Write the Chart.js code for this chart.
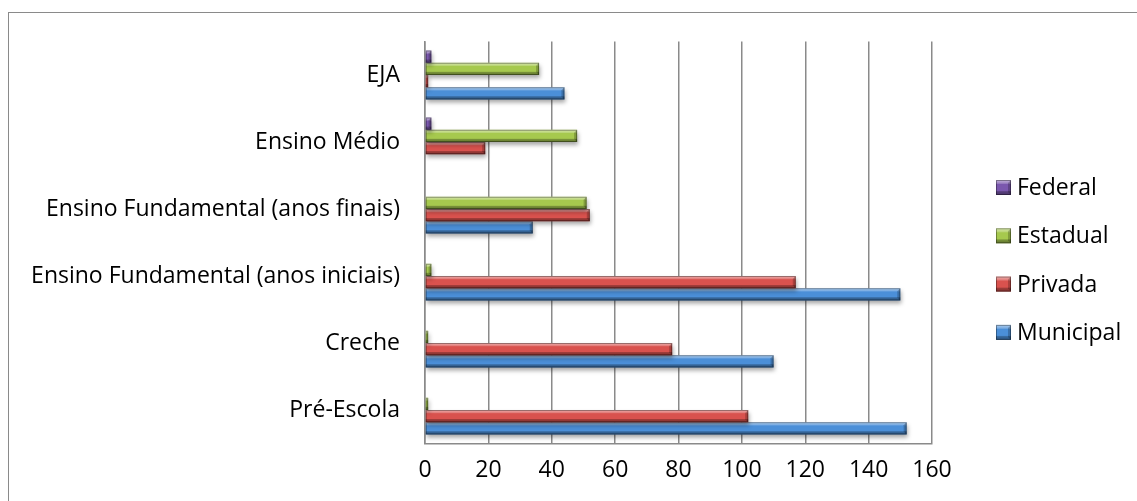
<!DOCTYPE html>
<html>
<head>
<meta charset="utf-8">
<script src="https://cdn.jsdelivr.net/npm/chart.js@4/dist/chart.umd.min.js"></script>
<style>
  html, body { margin: 0; padding: 0; background: #fff; overflow: hidden; }
  #frame { position: absolute; left: 8px; top: 12px; width: 1200px; height: 600px;
           border: 1.5px solid #8a8a8a; box-sizing: border-box; }
  #wrap { position: absolute; left: 0; top: 0; width: 1137px; height: 501px; }
</style>
</head>
<body>
<div id="frame"></div>
<div id="wrap"><canvas id="chart-0"></canvas></div>
<script>
  var categories = ['EJA', 'Ensino Médio', 'Ensino Fundamental (anos finais)',
    'Ensino Fundamental (anos iniciais)', 'Creche', 'Pré-Escola'];
  var federal = [2, 2, 0, 0, 0, 0];
  var estadual = [36, 48, 51, 2, 1, 1];
  var privada = [1, 19, 52, 117, 78, 102];
  var municipal = [44, 0, 34, 150, 110, 152];
  var xTicks = [0, 20, 40, 60, 80, 100, 120, 140, 160];

  var colors = {
    federal: '#7b58ae',
    estadual: '#a6c94e',
    privada: '#d9524e',
    municipal: '#4b8fd8'
  };

  Chart.defaults.font.family = '"Open Sans", Lato, sans-serif';
  Chart.defaults.font.size = 23;
  Chart.defaults.color = '#000';

  // light top edge, dark bottom edge and a bevelled tip, like office 3d bars
  function bevel(ctx, left, top, w, h) {
    var g = ctx.createLinearGradient(0, top, 0, top + h);
    g.addColorStop(0, 'rgba(255,255,255,0.55)');
    g.addColorStop(0.22, 'rgba(255,255,255,0.25)');
    g.addColorStop(0.3, 'rgba(255,255,255,0)');
    g.addColorStop(0.7, 'rgba(0,0,0,0)');
    g.addColorStop(0.78, 'rgba(0,0,0,0.28)');
    g.addColorStop(1, 'rgba(0,0,0,0.42)');
    ctx.fillStyle = g;
    ctx.fillRect(left, top, w, h);
    var d = Math.min(3, w / 2);
    ctx.fillStyle = 'rgba(0,0,0,0.22)';
    ctx.beginPath();
    ctx.moveTo(left + w, top);
    ctx.lineTo(left + w - d, top + 3);
    ctx.lineTo(left + w - d, top + h - 3);
    ctx.lineTo(left + w, top + h);
    ctx.closePath();
    ctx.fill();
    ctx.strokeStyle = 'rgba(0,0,0,0.35)';
    ctx.lineWidth = 1;
    ctx.strokeRect(left + 0.5, top + 0.5, Math.max(w - 1, 0), h - 1);
  }

  var barShade = {
    id: 'barShade',
    beforeDatasetsDraw: function(chart) {
      var ctx = chart.ctx;
      ctx.save();
      ctx.shadowColor = 'rgba(0,0,0,0.35)';
      ctx.shadowBlur = 4;
      ctx.shadowOffsetX = 1;
      ctx.shadowOffsetY = 3;
    },
    afterDatasetDraw: function(chart, args) {
      var ctx = chart.ctx;
      ctx.save();
      ctx.shadowColor = 'rgba(0,0,0,0)';
      args.meta.data.forEach(function(bar) {
        var p = bar.getProps(['x', 'y', 'base', 'height'], true);
        var w = Math.abs(p.x - p.base);
        if (w < 0.5) return;
        bevel(ctx, Math.min(p.x, p.base), p.y - p.height / 2, w, p.height);
      });
      ctx.restore();
    },
    afterDatasetsDraw: function(chart) {
      chart.ctx.restore();
    }
  };

  // legend on the right, listed in dataset order
  var sideLegend = {
    id: 'sideLegend',
    afterDraw: function(chart) {
      var ctx = chart.ctx;
      var area = chart.chartArea;
      var x0 = area.right + 64;
      var y0 = area.top + 146;
      var step = 48.3;
      ctx.save();
      ctx.font = '23px ' + Chart.defaults.font.family;
      ctx.textBaseline = 'middle';
      chart.data.datasets.forEach(function(ds, i) {
        var cy = y0 + i * step;
        ctx.fillStyle = ds.backgroundColor;
        ctx.fillRect(x0, cy - 7.5, 15, 15);
        bevel(ctx, x0, cy - 7.5, 15, 15);
        ctx.fillStyle = '#000';
        ctx.fillText(ds.label, x0 + 21, cy + 1);
      });
      ctx.restore();
    }
  };

  var data = {
    labels: categories,
    datasets: [{
      label: 'Federal', data: federal, backgroundColor: colors.federal
    }, {
      label: 'Estadual', data: estadual, backgroundColor: colors.estadual
    }, {
      label: 'Privada', data: privada, backgroundColor: colors.privada
    }, {
      label: 'Municipal', data: municipal, backgroundColor: colors.municipal
    }]
  };

  var options = {
    indexAxis: 'y',
    responsive: true,
    maintainAspectRatio: false,
    animation: false,
    layout: { padding: { top: 41.5, right: 205, bottom: 0, left: 0 } },
    datasets: {
      bar: { barPercentage: 1, categoryPercentage: 0.73, borderWidth: 0 }
    },
    plugins: {
      legend: { display: false },
      tooltip: { enabled: false }
    },
    scales: {
      x: {
        min: 0,
        max: 160,
        afterBuildTicks: function(scale) {
          scale.ticks = xTicks.map(function(v) { return { value: v }; });
        },
        afterFit: function(scale) { scale.height = 57.5; },
        grid: { color: '#8a8a8a', lineWidth: 1.5, drawTicks: false },
        border: { color: '#8a8a8a', width: 1.5 },
        ticks: { padding: 13, font: { size: 23 } }
      },
      y: {
        afterFit: function(scale) { scale.width = 425; },
        grid: { display: false, drawTicks: false },
        border: { color: '#8a8a8a', width: 1.5 },
        ticks: { padding: 25, font: { size: 23 } }
      }
    }
  };

  var chart = new Chart('chart-0', {
    type: 'bar',
    data: data,
    options: options,
    plugins: [barShade, sideLegend]
  });
</script>
</body>
</html>
